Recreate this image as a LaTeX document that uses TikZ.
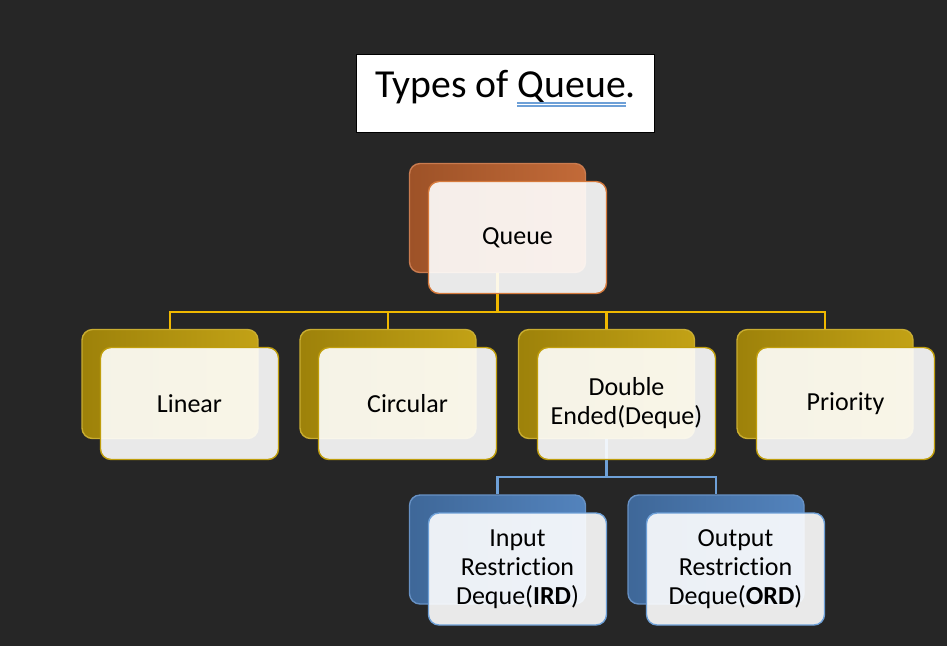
\documentclass[tikz,border=0pt]{standalone}
\usepackage{fontspec}
\setmainfont{Carlito}[Ligatures=NoCommon]

\tikzset{
  backbox/.style={draw=#1!85!white, line width=0.8pt, left color=#1!82!black, right color=#1!96!white,
    rounded corners=6pt, minimum width=3.52cm, minimum height=2.18cm},
  frontbox/.style={draw=#1, line width=0.8pt, fill=white, fill opacity=0.9, text opacity=1,
    rounded corners=6pt, minimum width=3.56cm, minimum height=2.24cm, align=center,
    font=\fontsize{14.8}{16.5}\selectfont},
  linkline/.style={draw=#1, line width=1.2pt}
}

\begin{document}
\begin{tikzpicture}
  \definecolor{bgdark}{RGB}{38,38,38}
  \definecolor{qorange}{RGB}{192,100,48}
  \definecolor{qorangeline}{RGB}{214,122,60}
  \definecolor{qgold}{RGB}{192,158,12}
  \definecolor{qgoldline}{RGB}{240,184,0}
  \definecolor{qblue}{RGB}{76,126,186}
  \definecolor{qblueline}{RGB}{110,160,215}

  \fill[bgdark] (0,0) rectangle (18.94,-12.92);
  \useasboundingbox (0,0) rectangle (18.94,-12.92);

  % title
  \node[draw=black, line width=1pt, fill=white, minimum width=5.96cm, minimum height=1.56cm,
        text height=15pt, text depth=10pt, font=\fontsize{22.6}{26}\selectfont]
        (title) at (10.11,-1.87) {Types of Queue.};
  \draw[qblueline, line width=0.6pt] (10.34,-2.06) -- (12.52,-2.06);
  \draw[qblueline, line width=0.6pt] (10.34,-2.12) -- (12.52,-2.12);

  % back boxes
  \node[backbox=qorange] (queueback) at (9.95,-4.36) {};
  \node[backbox=qgold] (linearback) at (3.40,-7.68) {};
  \node[backbox=qgold] (circularback) at (7.76,-7.68) {};
  \node[backbox=qgold] (dequeback) at (12.13,-7.68) {};
  \node[backbox=qgold] (priorityback) at (16.50,-7.68) {};
  \node[backbox=qblue] (irdback) at (9.95,-10.99) {};
  \node[backbox=qblue] (ordback) at (14.32,-10.99) {};

  % connectors
  \coordinate (split1) at (9.95,-6.24);
  \coordinate (split2) at (12.13,-9.54);
  \draw[linkline=qgoldline] (queueback.south) -- (split1);
  \draw[linkline=qgoldline] (split1) -| (linearback.north);
  \draw[linkline=qgoldline] (split1) -| (circularback.north);
  \draw[linkline=qgoldline] (split1) -| (dequeback.north);
  \draw[linkline=qgoldline] (split1) -| (priorityback.north);
  \draw[linkline=qblueline] (dequeback.south) -- (split2);
  \draw[linkline=qblueline] (split2) -| (irdback.north);
  \draw[linkline=qblueline] (split2) -| (ordback.north);

  % front boxes
  \node[frontbox=qorangeline] (queue) at (10.35,-4.75) {Queue};
  \node[frontbox=qgold] (linear) at (3.79,-8.07) {Linear};
  \node[frontbox=qgold] (circular) at (8.15,-8.07) {Circular};
  \node[frontbox=qgold] (deque) at (12.53,-8.07) {Double\\Ended(Deque)};
  \node[frontbox=qgold] (priority) at (16.91,-8.07) {Priority};
  \node[frontbox=qblueline] (ird) at (10.35,-11.38) {Input\\Restriction\\Deque(\textbf{IRD})};
  \node[frontbox=qblueline] (ord) at (14.71,-11.38) {Output\\Restriction\\Deque(\textbf{ORD})};
\end{tikzpicture}
\end{document}
